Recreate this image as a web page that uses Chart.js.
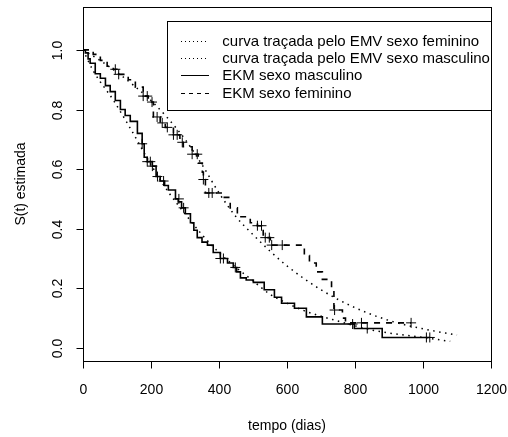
<!DOCTYPE html>
<html lang="pt">
<head>
    <meta charset="UTF-8">
    <title>S(t) estimada</title>
    <script src="https://cdn.jsdelivr.net/npm/chart.js"></script>
    <style>
        body { margin: 0; background: #fff; }
        #wrap { width: 508px; height: 437px; }
    </style>
</head>
<body>
    <div id="wrap"><canvas id="survChart" width="508" height="437"></canvas></div>

    <script>
        // EKM sexo masculino (tempo, S(t))
        const kmMascT = [0, 7, 15, 21, 36, 51, 66, 80, 95, 110, 124, 139, 160, 174, 180, 189, 204, 215, 227, 240, 251, 272, 280, 290, 301, 316, 326, 336, 350, 366, 383, 404, 425, 442, 452, 463, 480, 501, 533, 563, 584, 622, 657, 704, 798, 880, 1020];
        const kmMascS = [1, 0.99, 0.97, 0.955, 0.92, 0.905, 0.88, 0.86, 0.83, 0.80, 0.78, 0.76, 0.72, 0.685, 0.64, 0.625, 0.61, 0.575, 0.56, 0.545, 0.53, 0.50, 0.49, 0.47, 0.45, 0.42, 0.395, 0.37, 0.355, 0.345, 0.32, 0.30, 0.285, 0.27, 0.255, 0.235, 0.228, 0.22, 0.195, 0.17, 0.15, 0.133, 0.104, 0.08, 0.065, 0.035, 0.035];
        // censuras masculino
        const cenMascT = [174, 189, 198, 204, 219, 237, 282, 296, 404, 413, 448, 793, 836, 1010, 1020];
        const cenMascS = [0.685, 0.625, 0.625, 0.61, 0.575, 0.56, 0.50, 0.47, 0.30, 0.30, 0.27, 0.08, 0.065, 0.035, 0.035];

        // EKM sexo feminino
        const kmFemT = [0, 30, 51, 71, 89, 104, 133, 154, 177, 192, 207, 227, 242, 266, 285, 295, 321, 339, 351, 354, 360, 410, 433, 454, 492, 513, 530, 551, 631, 651, 666, 686, 704, 731, 738, 763, 772, 965];
        const kmFemS = [1, 0.985, 0.965, 0.945, 0.935, 0.918, 0.90, 0.875, 0.845, 0.825, 0.775, 0.755, 0.74, 0.715, 0.69, 0.675, 0.65, 0.62, 0.59, 0.565, 0.52, 0.505, 0.47, 0.44, 0.42, 0.41, 0.37, 0.345, 0.345, 0.31, 0.285, 0.255, 0.23, 0.20, 0.127, 0.10, 0.084, 0.084];
        const cenFemT = [95, 105, 177, 189, 203, 218, 233, 248, 266, 277, 292, 321, 336, 354, 370, 380, 513, 525, 536, 548, 555, 586, 740, 819, 965];
        const cenFemS = [0.935, 0.918, 0.845, 0.845, 0.825, 0.775, 0.755, 0.74, 0.715, 0.715, 0.69, 0.65, 0.65, 0.565, 0.52, 0.52, 0.41, 0.41, 0.37, 0.37, 0.345, 0.345, 0.127, 0.084, 0.084];

        // curvas ajustadas pelo EMV
        const emvFemT = [0, 50, 100, 150, 200, 250, 300, 350, 400, 450, 500, 550, 600, 700, 800, 900, 1000, 1100];
        const emvFemS = [1.0, 0.965, 0.925, 0.88, 0.83, 0.77, 0.70, 0.615, 0.52, 0.44, 0.38, 0.325, 0.275, 0.195, 0.135, 0.092, 0.064, 0.043];
        const emvMascT = [0, 30, 90, 140, 200, 250, 300, 350, 400, 450, 500, 550, 600, 650, 750, 850, 900, 1000, 1080];
        const emvMascS = [1.0, 0.93, 0.83, 0.735, 0.615, 0.525, 0.45, 0.38, 0.32, 0.27, 0.225, 0.18, 0.15, 0.125, 0.09, 0.06, 0.05, 0.035, 0.022];

        const xTicks = [0, 200, 400, 600, 800, 1000, 1200];
        const yTicks = [0, 0.2, 0.4, 0.6, 0.8, 1.0];
        const legendLabels = ['curva traçada pelo EMV sexo feminino', 'curva traçada pelo EMV sexo masculino', 'EKM sexo masculino', 'EKM sexo feminino'];

        const pts = (t, s) => t.map((v, i) => ({ x: v, y: s[i] }));
        const FONT = '"Liberation Sans", Arial, Helvetica, sans-serif';

        // eixos, caixa e legenda no estilo do R
        const rStyle = {
            id: 'rStyle',
            afterDraw(chart) {
                const ctx = chart.ctx, ca = chart.chartArea;
                const sx = chart.scales.x, sy = chart.scales.y;
                ctx.save();
                ctx.strokeStyle = '#000';
                ctx.fillStyle = '#000';
                ctx.lineWidth = 1;
                ctx.strokeRect(Math.round(ca.left) + 0.5, Math.round(ca.top) + 0.5,
                    Math.round(ca.right - ca.left), Math.round(ca.bottom - ca.top));

                ctx.font = '14px ' + FONT;
                ctx.textAlign = 'center';
                ctx.textBaseline = 'alphabetic';
                const bx = Math.round(ca.bottom) + 0.5;
                xTicks.forEach(v => {
                    const px = Math.round(sx.getPixelForValue(v)) + 0.5;
                    ctx.beginPath(); ctx.moveTo(px, bx); ctx.lineTo(px, bx + 7); ctx.stroke();
                    ctx.fillText(String(v), px, 393.5);
                });
                const lx = Math.round(ca.left) + 0.5;
                yTicks.forEach(v => {
                    const py = Math.round(sy.getPixelForValue(v)) + 0.5;
                    ctx.beginPath(); ctx.moveTo(lx, py); ctx.lineTo(lx - 7, py); ctx.stroke();
                    ctx.save();
                    ctx.translate(61.5, py);
                    ctx.rotate(-Math.PI / 2);
                    ctx.fillText(v.toFixed(1), 0, 0);
                    ctx.restore();
                });

                ctx.fillText('tempo (dias)', (ca.left + ca.right) / 2, 430);
                ctx.save();
                ctx.translate(25, (ca.top + ca.bottom) / 2);
                ctx.rotate(-Math.PI / 2);
                ctx.fillText('S(t) estimada', 0, 0);
                ctx.restore();

                // legenda
                const L = 167.5, T = 21.5, R = Math.round(ca.right) + 0.5, B = 110.5;
                ctx.fillStyle = '#fff';
                ctx.fillRect(L, T, R - L, B - T);
                ctx.strokeRect(L, T, R - L, B - T);
                const dashes = [[1, 3], [1, 3], [], [4, 4]];
                ctx.font = '15px ' + FONT;
                ctx.textAlign = 'left';
                ctx.textBaseline = 'middle';
                legendLabels.forEach((lab, i) => {
                    const y = Math.round(40.8 + i * 17.3) + 0.5;
                    ctx.setLineDash(dashes[i]);
                    ctx.beginPath(); ctx.moveTo(181, y); ctx.lineTo(209, y); ctx.stroke();
                    ctx.setLineDash([]);
                    ctx.fillStyle = '#000';
                    ctx.fillText(lab, 222.3, y + 0.5);
                });
                ctx.restore();
            }
        };

        const ctx = document.getElementById('survChart').getContext('2d');
        new Chart(ctx, {
            type: 'line',
            data: {
                datasets: [
                    {
                        label: 'EKM sexo masculino',
                        data: pts(kmMascT, kmMascS),
                        stepped: true,
                        borderColor: '#000',
                        borderWidth: 1.6,
                        pointRadius: 0
                    },
                    {
                        label: 'EKM sexo feminino',
                        data: pts(kmFemT, kmFemS),
                        stepped: true,
                        borderColor: '#000',
                        borderWidth: 1.6,
                        borderDash: [6, 6],
                        pointRadius: 0
                    },
                    {
                        label: 'censura masc',
                        data: pts(cenMascT, cenMascS),
                        showLine: false,
                        pointStyle: 'cross',
                        pointRadius: 5,
                        pointBorderWidth: 1,
                        pointBorderColor: '#000'
                    },
                    {
                        label: 'censura fem',
                        data: pts(cenFemT, cenFemS),
                        showLine: false,
                        pointStyle: 'cross',
                        pointRadius: 5,
                        pointBorderWidth: 1,
                        pointBorderColor: '#000'
                    },
                    {
                        label: legendLabels[0],
                        data: pts(emvFemT, emvFemS),
                        borderColor: '#000',
                        borderWidth: 1.5,
                        borderDash: [1.5, 4.5],
                        cubicInterpolationMode: 'monotone',
                        pointRadius: 0
                    },
                    {
                        label: legendLabels[1],
                        data: pts(emvMascT, emvMascS),
                        borderColor: '#000',
                        borderWidth: 1.5,
                        borderDash: [1.5, 4.5],
                        cubicInterpolationMode: 'monotone',
                        pointRadius: 0
                    }
                ]
            },
            options: {
                responsive: false,
                animation: false,
                layout: { padding: { left: 83, right: 17, top: 7, bottom: 76 } },
                plugins: { legend: { display: false }, tooltip: { enabled: false } },
                scales: {
                    x: { type: 'linear', min: 0, max: 1200, display: false },
                    y: { type: 'linear', min: -0.044, max: 1.144, display: false }
                }
            },
            plugins: [rStyle]
        });
    </script>
</body>
</html>
